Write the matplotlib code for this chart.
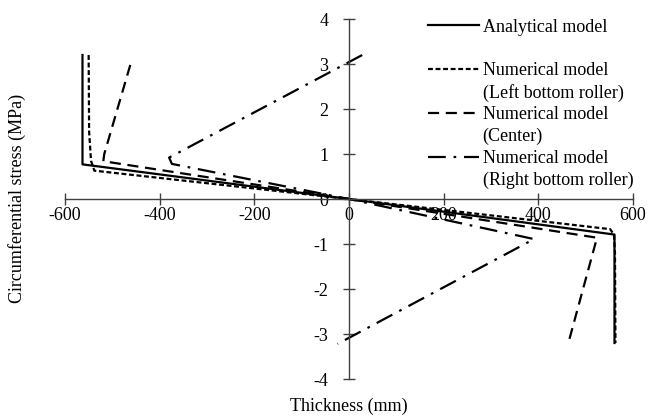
import numpy as np
import matplotlib.pyplot as plt
from matplotlib.lines import Line2D

plt.rcParams['font.family'] = ['Liberation Serif', 'DejaVu Serif']
plt.rcParams['font.size'] = 13
plt.rcParams['axes.unicode_minus'] = False

# données
x_analytique = [-563, -563, 0, 561, 561]
y_analytique = [3.2, 0.77, 0, -0.79, -3.2]

x_gauche = [-550, -549, -545, -538, 0, 552, 560, 562, 563]
y_gauche = [3.2, 1.5, 0.85, 0.63, 0, -0.67, -0.8, -1.2, -3.2]

x_centre = [-462, -517, -519, 0, 524, 463]
y_centre = [2.98, 1.0, 0.84, 0, -0.86, -3.22]

x_droite = [28, -380, -374, 0, 391, -24]
y_droite = [3.2, 0.92, 0.78, 0, -0.89, -3.22]

xticks = [-600, -400, -200, 0, 200, 400, 600]
yticks = [-4, -3, -2, -1, 0, 1, 2, 3, 4]

style_gauche = (0, (2.2, 1.2))
style_centre = (0, (5, 3))
style_droite = (0, (8, 3.5, 1.2, 3.5))

fig = plt.figure(figsize=(6.57, 4.17), dpi=100)
ax = fig.add_axes([0.0989, 0.0911, 0.8645, 0.8633])

ax.plot(x_analytique, y_analytique, color='black', lw=1.6, ls='-')
ax.plot(x_gauche, y_gauche, color='black', lw=1.6, ls=style_gauche)
ax.plot(x_centre, y_centre, color='black', lw=1.6, ls=style_centre)
ax.plot(x_droite, y_droite, color='black', lw=1.6, ls=style_droite)

ax.set_xlim(-600, 600)
ax.set_ylim(-4, 4)
ax.set_xticks(xticks)
ax.set_yticks(yticks)

gris = '#404040'
for s in ['top', 'right']:
    ax.spines[s].set_visible(False)
ax.spines['left'].set_position(('data', 0))
ax.spines['bottom'].set_position(('data', 0))
for s in ['left', 'bottom']:
    ax.spines[s].set_color(gris)
    ax.spines[s].set_linewidth(1.0)
ax.tick_params(direction='inout', length=8, width=1.0, color=gris, labelsize=13)
ax.tick_params(axis='x', pad=2)
ax.tick_params(axis='y', pad=11)
ax.patch.set_alpha(0)

fig.text(0.531, 0.004, 'Thickness (mm)', ha='center', va='bottom', fontsize=13)
fig.text(0.012, 0.525, 'Circumferential stress (MPa)', ha='left', va='center',
         rotation=90, fontsize=13)

# légende manuelle : une ligne par texte
vide = Line2D([], [], color='none')
poignees = [
    Line2D([], [], color='black', lw=1.6, ls='-'),
    vide,
    Line2D([], [], color='black', lw=1.6, ls=style_gauche),
    vide,
    Line2D([], [], color='black', lw=1.6, ls=style_centre),
    vide,
    Line2D([], [], color='black', lw=1.6, ls=style_droite),
    vide,
]
etiquettes = ['Analytical model', ' ', 'Numerical model', '(Left bottom roller)',
              'Numerical model', '(Center)', 'Numerical model', '(Right bottom roller)']
leg = ax.legend(poignees, etiquettes, loc='upper left', bbox_to_anchor=(0.624, 1.026),
                frameon=False, fontsize=13, handlelength=2.8, handletextpad=0.2,
                labelspacing=0.26, borderpad=0)

fig.savefig('out.png', dpi=100)
